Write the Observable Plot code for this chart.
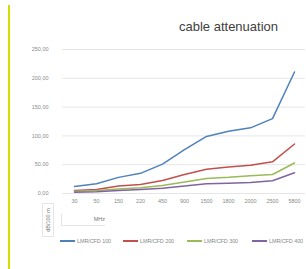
<!DOCTYPE html>
<html>
<head>
<meta charset="utf-8">
<script src="https://cdn.jsdelivr.net/npm/d3@7"></script>
<script src="https://cdn.jsdelivr.net/npm/@observablehq/plot@0.6"></script>
<style>
  html, body { margin: 0; padding: 0; background: #fff; }
  #wrap { position: relative; width: 306px; height: 269px; overflow: hidden; background: #fff; font-family: "Liberation Sans", Arial, sans-serif; }
  #bar { position: absolute; left: 8px; top: 5px; width: 2px; height: 270px; background: #d2e000; }
  #title { position: absolute; left: 179px; top: 19px; font-size: 13px; color: #404040; white-space: nowrap; }
  #chart { position: absolute; left: 0; top: 0; }
  .leg { position: absolute; top: 238px; font-size: 5.5px; color: #8a8a8a; white-space: nowrap; display: flex; align-items: center; letter-spacing: -0.1px; }
  .leg i { display: inline-block; width: 15px; height: 1.5px; margin-right: 2px; }
  #ytitle { position: absolute; left: 42px; top: 203px; width: 10px; height: 32px; border: 1px solid #e4e4e4; font-size: 5.5px; color: #777; }
  #ytitle span { position: absolute; left: 50%; top: 50%; transform: translate(-50%, -50%) rotate(-90deg); white-space: nowrap; }
  #xtitle { position: absolute; left: 61px; top: 214px; width: 43px; height: 11px; border-left: 1px solid #e4e4e4; border-bottom: 1px solid #e4e4e4; font-size: 5.5px; color: #777; text-align: right; line-height: 11px; }
</style>
</head>
<body>
<div id="wrap">
  <div id="bar"></div>
  <div id="chart"></div>
  <div id="title">cable attenuation</div>
  <div id="ytitle"><span>dB/100 m</span></div>
  <div id="xtitle">MHz</div>
  <div id="legend"></div>
</div>
<script>
const frequencies = ["30", "50", "150", "220", "450", "900", "1500", "1800", "2000", "2500", "5800"];
const seriesNames = ["LMR/CFD 100", "LMR/CFD 200", "LMR/CFD 300", "LMR/CFD 400"];
const cfd100 = [12, 17, 28, 35, 51, 76, 99, 108, 114, 130, 211];
const cfd200 = [5, 7, 13, 15.5, 22.5, 33, 42, 46, 49, 55, 86];
const cfd300 = [4, 5, 8, 10, 14, 20, 26, 28, 31, 33, 53];
const cfd400 = [2, 3, 5, 7, 9, 13, 17, 18, 19, 22, 36];
const yTicks = [0, 50, 100, 150, 200, 250];
const colors = ["#4f81bd", "#c0504d", "#9bbb59", "#8064a2"];

const allSeries = [cfd100, cfd200, cfd300, cfd400];
const data = [];
allSeries.forEach((vals, si) => {
  vals.forEach((v, i) => data.push({ freq: frequencies[i], value: v, series: seriesNames[si] }));
});

const chart = Plot.plot({
  width: 306,
  height: 269,
  marginTop: 49,
  marginBottom: 76,
  marginLeft: 62,
  marginRight: 1,
  style: { background: "transparent", fontFamily: "Liberation Sans, Arial, sans-serif", fontSize: "5.5px", color: "#8a8a8a" },
  x: { type: "point", domain: frequencies, padding: 0.5, label: null },
  y: { domain: [0, 250], label: null },
  color: { domain: seriesNames, range: colors },
  marks: [
    Plot.ruleY(yTicks, { stroke: "#e6e6e6", strokeWidth: 1 }),
    Plot.axisY({ ticks: yTicks, tickSize: 0, tickPadding: 14, tickFormat: d => d.toFixed(2).replace(".", ","), label: null, fill: "#8a8a8a" }),
    Plot.axisX({ tickSize: 0, tickPadding: 6, label: null, fill: "#8a8a8a" }),
    Plot.line(data, { x: "freq", y: "value", z: "series", stroke: "series", strokeWidth: 1.5 })
  ]
});
document.getElementById("chart").appendChild(chart);

const legendPos = [60, 123, 187, 252];
const legend = document.getElementById("legend");
seriesNames.forEach((name, i) => {
  const d = document.createElement("div");
  d.className = "leg";
  d.style.left = legendPos[i] + "px";
  d.innerHTML = `<i style="background:${colors[i]}"></i>${name}`;
  legend.appendChild(d);
});
</script>
</body>
</html>
